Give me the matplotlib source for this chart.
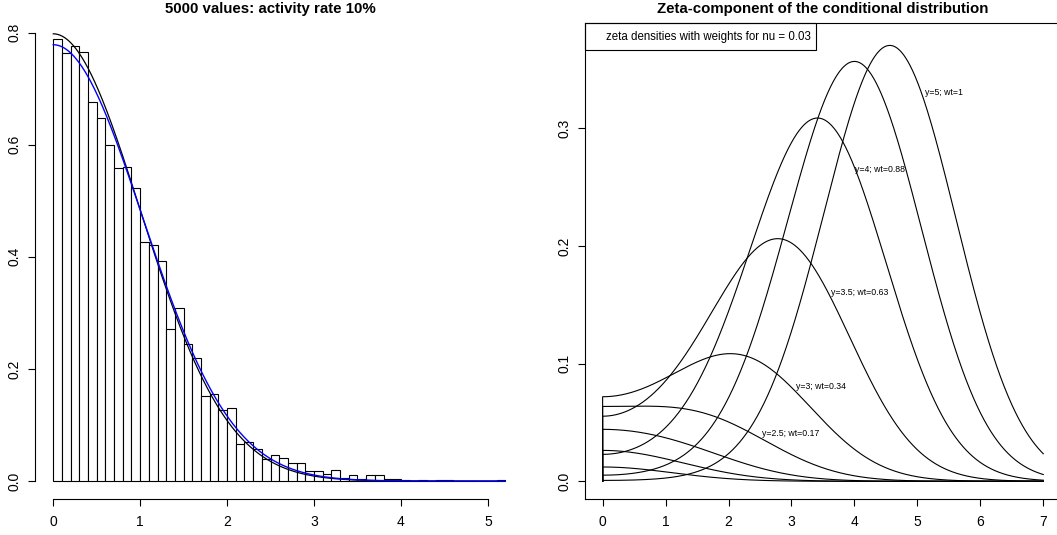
import numpy as np
import matplotlib
matplotlib.use("Agg")
import matplotlib.pyplot as plt
from matplotlib.patches import Rectangle

plt.rcParams['font.family'] = ['Liberation Sans', 'DejaVu Sans']

# ---------------- data ----------------
# left panel: histogram densities, bins of width 0.1 from 0 to 5.2
bin_width = 0.1
hist_density = [0.788, 0.764, 0.776, 0.766, 0.676, 0.648, 0.600, 0.558, 0.560, 0.522,
                0.426, 0.422, 0.392, 0.272, 0.308, 0.244, 0.220, 0.152, 0.156, 0.126,
                0.130, 0.066, 0.070, 0.058, 0.040, 0.046, 0.042, 0.032, 0.032, 0.018,
                0.018, 0.012, 0.020, 0.006, 0.010, 0.004, 0.010, 0.010, 0.004, 0.004,
                0.002, 0.000, 0.002, 0.000, 0.002, 0.002, 0.000, 0.000, 0.000, 0.000,
                0.000, 0.002]
# half-normal density scales of the two overlaid curves
black_scale = 1.0
blue_scale = 1.025
left_xticks = [0, 1, 2, 3, 4, 5]
left_yticks = [0.0, 0.2, 0.4, 0.6, 0.8]

# right panel: observed y for each zeta-density curve and its peak height
zeta_y = [1.0, 1.5, 2.0, 2.5, 3.0, 3.5, 4.0, 4.5, 5.0]
zeta_peak = [0.0122, 0.0263, 0.0442, 0.0639, 0.1085, 0.2062, 0.3087, 0.3568, 0.3704]
label_text = ["y=2.5; wt=0.17", "y=3; wt=0.34", "y=3.5; wt=0.63", "y=4; wt=0.88", "y=5; wt=1"]
label_x = [2.53, 3.07, 3.62, 4.01, 5.12]
label_y = [0.041, 0.0807, 0.1608, 0.2651, 0.3308]
right_xticks = [0, 1, 2, 3, 4, 5, 6, 7]
right_yticks = [0.0, 0.1, 0.2, 0.3]

# ---------------- figure ----------------
W, H = 1057, 535
fig = plt.figure(figsize=(W / 100, H / 100), dpi=100)

def phi(t):
    return np.exp(-0.5 * t * t) / np.sqrt(2 * np.pi)

# ---- left panel ----
ax1 = fig.add_axes([35.2 / W, 1 - 499 / H, (523.3 - 35.2) / W, (499 - 14.7) / H])
ax1.set_xlim(-0.208, 5.408)
ax1.set_ylim(-0.032, 0.832)
lefts = np.arange(len(hist_density)) * bin_width
ax1.bar(lefts, hist_density, width=bin_width, align='edge', facecolor='white',
        edgecolor='black', linewidth=0.8)
xs = np.linspace(0, len(hist_density) * bin_width, 600)
ax1.plot(xs, 2 * phi(xs / black_scale) / black_scale, color='black', lw=0.9)
ax1.plot(xs, 2 * phi(xs / blue_scale) / blue_scale, color='#0000ff', lw=1.0)
for s in ['top', 'right']:
    ax1.spines[s].set_visible(False)
ax1.spines['left'].set_bounds(left_yticks[0], left_yticks[-1])
ax1.spines['bottom'].set_bounds(left_xticks[0], left_xticks[-1])
ax1.set_xticks(left_xticks)
ax1.set_xticklabels([str(v) for v in left_xticks])
ax1.set_yticks(left_yticks)
ax1.set_yticklabels(["%.1f" % v for v in left_yticks], rotation=90, va='center')
for sp in ax1.spines.values():
    sp.set_linewidth(0.8)
ax1.tick_params(axis='both', length=5, width=0.8, labelsize=10, colors='black')
ax1.tick_params(axis='x', pad=6.5)
ax1.tick_params(axis='y', pad=5)
fig.text(270.8 / W, 1 - 13.3 / H, "5000 values: activity rate 10%", ha='center',
         va='baseline', fontsize=10.8, fontweight='bold')

# ---- right panel ----
ax2 = fig.add_axes([585 / W, 1 - 499 / H, (1060.9 - 585) / W, (499 - 22.7) / H])
ax2.set_xlim(-0.28, 7.28)
ax2.set_ylim(-0.015, 0.3897)
xg = np.linspace(0, 7, 1401)
for yv, pk in zip(zeta_y, zeta_peak):
    with np.errstate(divide='ignore', invalid='ignore'):
        g = (phi(yv - xg) + phi(yv + xg) - 2 * phi(yv) * np.exp(-0.5 * xg ** 2)) / xg ** 2
    g[0] = phi(yv) * yv ** 2
    curve = pk * g / g.max()
    ax2.plot(np.concatenate([[0], xg]), np.concatenate([[0], curve]), color='black', lw=0.8)
for t, lx, ly in zip(label_text, label_x, label_y):
    ax2.text(lx, ly, t, fontsize=6.3, ha='left', va='center')
ax2.add_patch(Rectangle((0, 1 - 0.058), 0.4848, 0.058, transform=ax2.transAxes,
                        fill=False, lw=0.8, edgecolor='black', clip_on=False))
ax2.text(0.0435, 1 - (36.7 - 22.7) / 476.3, "zeta densities with weights for nu = 0.03",
         transform=ax2.transAxes, fontsize=8.3, ha='left', va='center')
ax2.set_xticks(right_xticks)
ax2.set_xticklabels([str(v) for v in right_xticks])
ax2.set_yticks(right_yticks)
ax2.set_yticklabels(["%.1f" % v for v in right_yticks], rotation=90, va='center')
for sp in ax2.spines.values():
    sp.set_linewidth(0.8)
ax2.tick_params(axis='both', length=5, width=0.8, labelsize=10, colors='black')
ax2.tick_params(axis='x', pad=6.5)
ax2.tick_params(axis='y', pad=5)
fig.text(822.7 / W, 1 - 13.0 / H, "Zeta-component of the conditional distribution",
         ha='center', va='baseline', fontsize=10.8, fontweight='bold')

fig.savefig("out.png", dpi=100)
